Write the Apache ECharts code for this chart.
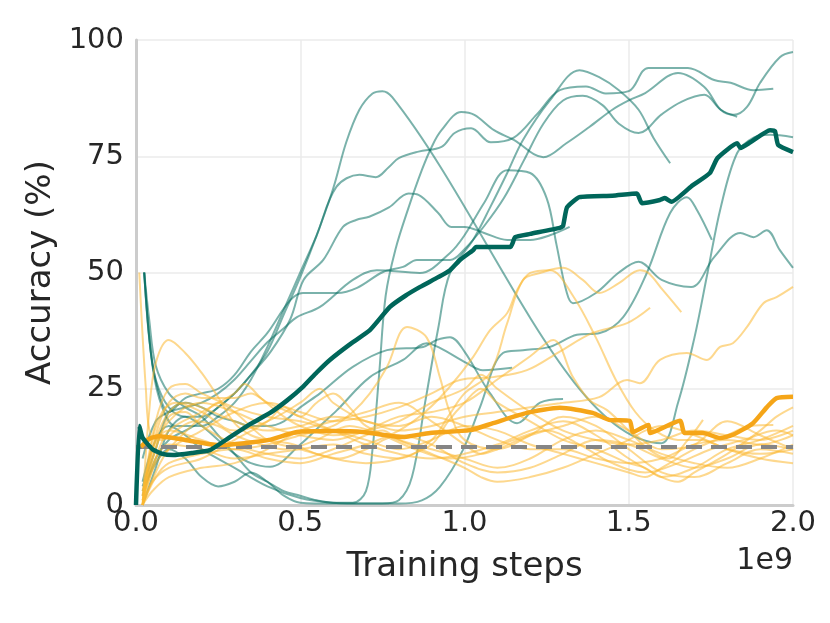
<!DOCTYPE html>
<html>
<head>
<meta charset="utf-8">
<script src="https://cdn.jsdelivr.net/npm/echarts@6/dist/echarts.min.js"></script>
<style>
html,body{margin:0;padding:0;background:#fff;}
#chart{width:830px;height:623px;}
</style>
</head>
<body>
<div id="chart"></div>
<script>
// x in units of 1e9 training steps, y = accuracy (%)
const xTicks = [0.0, 0.5, 1.0, 1.5, 2.0];
const yTicks = [0, 25, 50, 75, 100];
const chanceLevel = 12.5;

// ---- individual teal (trained) runs ----
const tealRunA = [[0.025,50],[0.04,36],[0.06,27],[0.1,21],[0.15,19],[0.2,19],[0.25,21],[0.3,24],[0.35,28],[0.4,33],[0.45,41],[0.5,49],[0.55,58],[0.6,68],[0.64,78],[0.68,85],[0.72,88.5],[0.75,89],[0.78,87.7],[1.6,13.3],[1.65,22],[1.7,36],[1.74,50],[1.78,64],[1.83,75.7],[1.88,79],[1.93,79.6],[2.0,79.1]];
const tealRunB = [[0.025,50],[0.05,30],[0.08,21],[0.12,17],[0.2,17],[0.25,19],[0.3,22],[0.35,27],[0.4,34],[0.45,42],[0.5,50],[0.55,58],[0.61,68.4],[0.68,71],[0.73,70.5],[0.77,72.7],[0.8,74.6],[0.86,76],[0.93,77],[0.97,80],[1.02,81],[1.08,78],[1.15,79],[1.22,84],[1.29,89.2],[1.37,90],[1.43,88.5],[1.5,89],[1.56,94],[1.68,94],[1.76,91.4],[1.81,90.8],[1.88,89.2],[1.94,89.5]];
const tealRunC = [[0.02,2],[0.06,10],[0.1,14],[0.15,16],[0.2,18],[0.25,21],[0.3,24],[0.35,28],[0.41,33],[0.47,40],[0.51,48.4],[0.57,52.7],[0.63,59.8],[0.67,61.3],[0.71,62],[0.77,64],[0.83,67],[0.86,66.7],[0.92,62.8],[0.96,59.8],[1.0,59.8],[1.06,58.5],[1.13,57],[1.2,57],[1.26,58],[1.32,59.8]];
const tealRunD = [[0.025,50],[0.04,40],[0.06,30],[0.1,24],[0.15,21],[0.2,19],[0.25,15],[0.3,11],[0.35,7],[0.4,5],[0.45,3],[0.5,2],[0.55,1],[0.6,0.5],[0.66,0.5],[0.7,3],[0.72,12],[0.74,28],[0.76,45],[0.79,55],[0.83,64],[0.87,72],[0.9,77],[0.93,80.6],[0.99,84.5],[1.03,83.9],[1.09,80.6],[1.15,78.5],[1.24,74.8],[1.31,77.8],[1.38,81.3],[1.45,85],[1.5,87],[1.55,88.6],[1.65,92.9],[1.73,89.9],[1.78,85],[1.82,83.9],[1.86,85.6],[1.9,90.8],[1.96,96.3],[2.0,97.4]];
const tealRunE = [[0.02,10],[0.06,18],[0.1,20],[0.15,21],[0.2,22],[0.25,24],[0.3,27],[0.35,31],[0.4,35],[0.45,38],[0.49,40.4],[0.56,42.6],[0.66,48.4],[0.733,50.5],[0.864,49.9],[0.956,54.2],[1.0,58],[1.06,65],[1.13,72],[1.2,71.4],[1.25,66],[1.28,56],[1.31,46],[1.33,43.4],[1.4,45.6],[1.47,50],[1.53,52.3],[1.6,48.4],[1.69,46.9],[1.76,53.3],[1.84,58.5],[1.88,57.6],[1.92,59.1],[1.96,54.8],[2.0,51]];
const tealRunF = [[0.02,3],[0.06,9],[0.1,12],[0.15,10],[0.2,6],[0.25,4],[0.3,5],[0.35,7],[0.4,5],[0.45,2],[0.5,0.5],[0.6,0.3],[0.75,0.3],[0.8,1],[0.84,6],[0.88,22],[0.92,38],[0.956,49.9],[1.026,57],[1.078,64],[1.13,71.4],[1.178,78.5],[1.26,87],[1.35,93.5],[1.41,92],[1.47,89.2],[1.53,85],[1.575,79],[1.626,73.5]];
const tealRunG = [[0.02,5],[0.06,14],[0.1,17],[0.15,15],[0.2,12],[0.3,8],[0.4,4],[0.5,1.5],[0.6,0.5],[0.7,0.3],[0.8,0.3],[0.87,1],[0.925,3.9],[0.995,11.8],[1.047,21],[1.117,32.7],[1.178,33.3],[1.26,34],[1.342,36.6],[1.412,37],[1.483,40.4],[1.555,49.9],[1.626,62.8],[1.677,66.2],[1.708,63.4],[1.753,57]];
const tealRunH = [[0.02,0],[0.06,8],[0.1,16],[0.15,19],[0.2,17],[0.25,14],[0.3,11],[0.35,9],[0.408,8.2],[0.5,13],[0.56,17],[0.612,20.4],[0.712,27.5],[0.813,31.2],[0.885,34.8],[0.925,33.8],[1.007,30.5],[1.056,29],[1.145,29.5]];
const tealRunI = [[0.02,4],[0.06,12],[0.1,20],[0.15,22],[0.2,21],[0.25,19],[0.3,18],[0.35,17],[0.4,17],[0.45,18],[0.5,21],[0.56,24],[0.66,29.7],[0.764,33.3],[0.874,34],[0.916,35.5],[0.956,36.1],[1.0,33],[1.078,24],[1.16,17.6],[1.23,22],[1.3,22.8]];
const tealRunJ = [[0.025,50],[0.045,33],[0.07,24],[0.1,20],[0.15,23],[0.2,24],[0.25,25],[0.3,28],[0.35,33],[0.4,37],[0.469,44],[0.508,45.6],[0.612,45.6],[0.673,46.7],[0.752,50.1],[0.813,51.2],[0.855,52.7],[0.956,52.7],[1.0,55],[1.06,60],[1.12,66],[1.18,74],[1.24,82],[1.3,87],[1.36,88],[1.42,86],[1.47,82],[1.53,80],[1.6,84],[1.66,86.7],[1.73,88.2],[1.78,85],[1.83,83.5]];
const tealRuns = [tealRunA, tealRunB, tealRunC, tealRunD, tealRunE, tealRunF, tealRunG, tealRunH, tealRunI, tealRunJ];

// ---- individual orange (baseline) runs ----
const orangeRun1 = [[0.01,50],[0.03,25],[0.045,15],[0.08,14],[0.12,16],[0.18,18],[0.25,17],[0.3,15],[0.38,13],[0.45,12],[0.55,14],[0.65,17],[0.75,15],[0.85,12],[0.95,10],[1.05,11],[1.15,14],[1.25,16],[1.35,13],[1.45,9],[1.55,7],[1.65,9],[1.75,12],[1.85,14],[1.95,16],[2.0,15]];
const orangeRun2 = [[0.02,0],[0.04,20],[0.06,30.5],[0.1,35.5],[0.15,32.7],[0.2,28.4],[0.25,23.2],[0.3,17.6],[0.35,15],[0.4,14],[0.48,13],[0.55,11],[0.62,10],[0.7,12],[0.8,15],[0.9,13],[1.0,9],[1.1,7],[1.2,8],[1.3,11],[1.4,14],[1.5,13],[1.6,10],[1.7,8],[1.8,10],[1.9,13],[2.0,12]];
const orangeRun3 = [[0.02,0],[0.05,12],[0.1,16],[0.2,14],[0.3,12],[0.4,13],[0.5,15],[0.6,17],[0.66,20],[0.712,24],[0.764,29.7],[0.825,38.3],[0.885,36],[0.925,27.5],[0.956,19.8],[1.0,14],[1.1,12],[1.2,15],[1.3,19],[1.4,17],[1.5,12],[1.6,7],[1.7,6],[1.8,9],[1.9,12],[2.0,11]];
const orangeRun4 = [[0.02,2],[0.06,10],[0.1,13],[0.2,12],[0.3,10],[0.4,11],[0.5,12],[0.6,13],[0.7,11],[0.8,10],[0.9,14],[0.95,19],[1.0,24],[1.078,28.4],[1.13,39.1],[1.178,48.4],[1.23,49.9],[1.3,51],[1.36,48.4],[1.41,45.6],[1.47,47.7],[1.534,50.5],[1.56,49.9],[1.604,46.2],[1.66,41.5]];
const orangeRun5 = [[0.02,3],[0.06,14],[0.1,20],[0.15,22],[0.2,21],[0.3,18],[0.4,16],[0.5,17],[0.6,19],[0.7,18],[0.8,16],[0.9,17],[1.0,19],[1.1,20],[1.2,21],[1.29,21.9],[1.41,23.2],[1.495,26.9],[1.534,26.2],[1.595,31.2],[1.677,32.7],[1.738,31.2],[1.778,34],[1.817,34.8],[1.86,38.3],[1.91,43.4],[1.95,44.7],[2.0,46.9]];
const orangeRun6 = [[0.02,1],[0.06,9],[0.1,12],[0.2,16],[0.3,20],[0.4,22],[0.5,20],[0.6,18],[0.7,19],[0.8,21],[0.9,24],[0.986,26.9],[1.087,27.5],[1.19,29],[1.29,33],[1.39,37],[1.495,39.1],[1.565,42.4]];
const orangeRun7 = [[0.02,0],[0.06,6],[0.1,9],[0.2,11],[0.3,12],[0.4,10],[0.5,9],[0.6,11],[0.7,13],[0.8,16],[0.88,20],[0.95,25],[1.026,31.8],[1.078,37.6],[1.13,41.3],[1.16,46.2],[1.2,49.9],[1.26,50.5],[1.33,45],[1.4,36],[1.46,27],[1.52,20],[1.58,16],[1.65,14],[1.72,14],[1.8,12],[1.9,11],[2.0,12]];
const orangeRun8 = [[0.02,0],[0.05,10],[0.1,18],[0.2,22],[0.3,20],[0.4,17],[0.5,15],[0.6,14],[0.7,16],[0.8,19],[0.9,20],[1.0,22],[1.1,27],[1.2,32],[1.27,35.5],[1.33,27.5],[1.38,22.6],[1.434,20.4],[1.5,16],[1.56,12],[1.62,10],[1.68,14],[1.726,18.3]];
const orangeRun9 = [[0.02,2],[0.06,18],[0.1,25],[0.15,26],[0.2,24],[0.3,21],[0.4,19],[0.5,18],[0.6,16],[0.7,14],[0.8,12],[0.9,14],[1.0,17],[1.1,16],[1.2,13],[1.3,11],[1.4,9],[1.5,7],[1.55,6],[1.6,8],[1.7,12],[1.8,15],[1.87,17],[1.94,17.2]];
const orangeRun10 = [[0.02,0],[0.06,15],[0.1,22],[0.15,24],[0.2,23],[0.3,23],[0.35,24],[0.4,22],[0.5,19],[0.6,16],[0.7,13],[0.8,11],[0.9,10],[1.0,11],[1.1,13],[1.2,16],[1.3,18],[1.4,15],[1.5,10],[1.6,6],[1.65,5],[1.7,7],[1.8,11],[1.9,16],[1.95,19],[2.0,21]];
const orangeRun11 = [[0.02,0],[0.05,5],[0.1,8],[0.2,10],[0.3,14],[0.4,18],[0.45,21],[0.5,19],[0.55,22],[0.6,24],[0.65,21],[0.7,17],[0.8,14],[0.9,12],[1.0,10],[1.1,8],[1.2,10],[1.3,14],[1.4,16],[1.5,14],[1.6,11],[1.7,9],[1.8,8],[1.9,10],[2.0,13]];
const orangeRun12 = [[0.02,1],[0.06,12],[0.1,19],[0.15,20],[0.2,17],[0.3,13],[0.4,11],[0.5,10],[0.6,12],[0.7,15],[0.75,16],[0.8,14],[0.9,11],[1.0,8],[1.05,6],[1.1,5],[1.2,6],[1.3,8],[1.4,11],[1.5,14],[1.55,16],[1.6,17],[1.7,15],[1.8,12],[1.9,10],[2.0,9]];
const orangeRun13 = [[0.02,0],[0.06,7],[0.1,12],[0.2,19],[0.25,22],[0.3,20],[0.4,14],[0.5,12],[0.6,10],[0.7,9],[0.8,10],[0.9,13],[0.95,18],[1.0,22],[1.05,25],[1.1,22],[1.2,18],[1.3,14],[1.4,12],[1.5,9],[1.55,8],[1.6,6],[1.7,8],[1.8,12],[1.9,14],[2.0,17]];
const orangeRun14 = [[0.02,0],[0.05,14],[0.08,20],[0.12,22],[0.2,20],[0.3,16],[0.4,18],[0.5,22],[0.56,25],[0.6,22],[0.7,18],[0.8,17],[0.9,19],[1.0,17],[1.1,14],[1.2,12],[1.3,12],[1.4,10],[1.5,9],[1.6,10],[1.7,13],[1.8,14],[1.9,13],[2.0,15]];
const orangeRun15 = [[0.02,0],[0.05,3],[0.1,6],[0.2,8],[0.3,9],[0.4,12],[0.5,16],[0.6,18],[0.7,20],[0.8,22],[0.9,18],[1.0,13],[1.05,11],[1.1,12],[1.2,15],[1.3,17],[1.4,19],[1.5,16],[1.6,12],[1.7,13],[1.8,18],[1.9,15],[2.0,12]];
const orangeRun16 = [[0.02,0],[0.06,10],[0.1,16],[0.2,20],[0.3,24],[0.33,26],[0.38,23],[0.45,19],[0.5,17],[0.6,15],[0.7,16],[0.8,18],[0.9,22],[1.0,25],[1.05,28],[1.1,25],[1.2,20],[1.3,16],[1.4,14],[1.5,13],[1.6,14],[1.7,16],[1.8,15],[1.9,14],[2.0,16]];
const orangeRuns = [orangeRun1, orangeRun2, orangeRun3, orangeRun4, orangeRun5, orangeRun6, orangeRun7, orangeRun8, orangeRun9, orangeRun10, orangeRun11, orangeRun12, orangeRun13, orangeRun14, orangeRun15, orangeRun16];

// ---- means ----
const tealMean = [[0,0],[0.01,17],[0.02,14.5],[0.05,12],[0.08,11],[0.113,10.75],[0.17,11.2],[0.225,11.8],[0.286,14.6],[0.35,17.5],[0.408,19.8],[0.46,22.5],[0.508,25.4],[0.55,28.5],[0.59,31.2],[0.65,34.5],[0.712,37.6],[0.773,42.6],[0.82,45],[0.865,46.9],[0.92,49],[0.956,50.5],[0.986,52.7],[1.026,54.8],[1.035,55.5],[1.14,55.5],[1.154,57.6],[1.2,58.3],[1.29,59.6],[1.3,60],[1.312,64],[1.35,66.2],[1.45,66.5],[1.525,67],[1.54,64.9],[1.595,65.6],[1.61,66],[1.63,65.2],[1.69,68.5],[1.747,71.4],[1.77,74.6],[1.83,77.8],[1.84,76.8],[1.87,78],[1.93,80.6],[1.945,80.4],[1.955,77.4],[2.0,75.9]];
const orangeMean = [[0.015,12.5],[0.04,14.2],[0.07,14.8],[0.15,14],[0.25,12.9],[0.33,13.3],[0.405,14],[0.49,15.7],[0.6,15.9],[0.69,15.7],[0.81,14.6],[0.895,15.5],[1.017,16.1],[1.087,17.6],[1.19,19.8],[1.29,20.9],[1.39,19.8],[1.44,18.3],[1.503,18.1],[1.513,15.7],[1.56,17.2],[1.565,15.5],[1.656,18.1],[1.67,15.5],[1.726,15.5],[1.778,14.4],[1.817,15.1],[1.878,17.6],[1.92,21],[1.95,23],[2.0,23.3]];

const FONT = 'DejaVu Sans';
const series = [];
tealRuns.forEach(function (run) {
  series.push({type:'line', data: run, showSymbol:false, smooth:0.35, silent:true,
    lineStyle:{color:'rgba(0,107,94,0.52)', width:2}, z:2});
});
orangeRuns.forEach(function (run) {
  series.push({type:'line', data: run, showSymbol:false, smooth:0.35, silent:true,
    lineStyle:{color:'rgba(252,184,50,0.55)', width:2}, z:3});
});
series.push({type:'line', data:[[xTicks[0], chanceLevel],[xTicks[xTicks.length-1], chanceLevel]], showSymbol:false,
  lineStyle:{color:'#858585', width:4, type:[16,9]}, z:4});
series.push({type:'line', data: orangeMean, showSymbol:false, smooth:0.2,
  lineStyle:{color:'#f5a518', width:4.5}, z:5});
series.push({type:'line', data: tealMean, showSymbol:false, smooth:0.15,
  lineStyle:{color:'#00665a', width:4.5}, z:6});

const chart = echarts.init(document.getElementById('chart'), null, {renderer:'canvas'});
chart.setOption({
  animation:false,
  backgroundColor:'#ffffff',
  grid:{left:136, right:37, top:40, bottom:118, containLabel:false},
  xAxis:{type:'value', min:xTicks[0], max:xTicks[xTicks.length-1], interval:0.5,
    name:'Training steps', nameLocation:'middle', nameGap:45,
    nameTextStyle:{fontFamily:FONT, fontSize:34, color:'#262626'},
    axisLine:{show:true, lineStyle:{color:'#cccccc', width:3}},
    axisTick:{show:false},
    axisLabel:{fontFamily:FONT, fontSize:29, color:'#262626', margin:4,
      formatter:function(v){return v.toFixed(1);}},
    splitLine:{show:true, lineStyle:{color:'#ebebeb', width:1.5}}},
  yAxis:{type:'value', min:yTicks[0], max:yTicks[yTicks.length-1], interval:25,
    name:'Accuracy (%)', nameLocation:'middle', nameGap:78,
    nameTextStyle:{fontFamily:FONT, fontSize:34, color:'#262626'},
    axisLine:{show:true, lineStyle:{color:'#cccccc', width:3}},
    axisTick:{show:false},
    axisLabel:{fontFamily:FONT, fontSize:29, color:'#262626', margin:12},
    splitLine:{show:true, lineStyle:{color:'#ebebeb', width:1.5}}},
  graphic:[{type:'text', right:37, top:546,
    style:{text:'1e9', fontFamily:FONT, fontSize:30, fill:'#262626'}}],
  series: series
});
</script>
</body>
</html>
